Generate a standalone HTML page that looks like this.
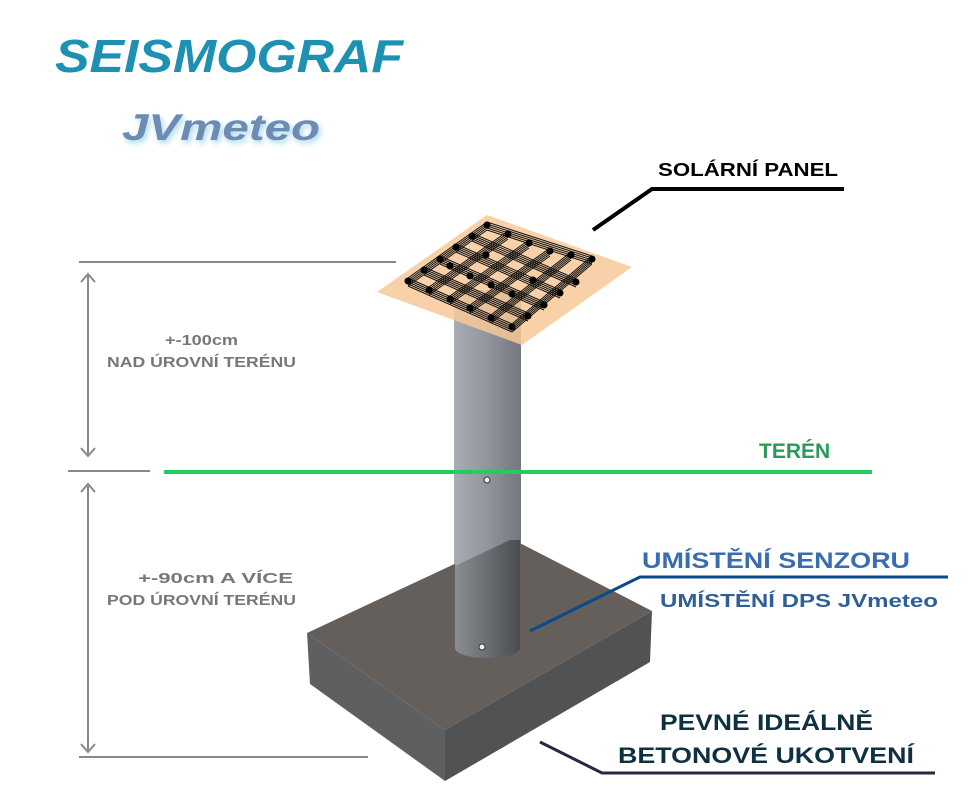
<!DOCTYPE html>
<html><head><meta charset="utf-8"><style>
html,body{margin:0;padding:0;background:#fff;}
svg{display:block;}
text{font-family:"Liberation Sans",Arial,sans-serif;font-weight:bold;}
</style></head><body>
<svg width="975" height="812" viewBox="0 0 975 812" xmlns="http://www.w3.org/2000/svg">
<defs>
<linearGradient id="pole" x1="0" x2="1" y1="0" y2="0">
<stop offset="0" stop-color="#a9adb3"/><stop offset="0.5" stop-color="#91959c"/><stop offset="1" stop-color="#74777c"/>
</linearGradient>
<linearGradient id="poleD" x1="0" x2="1" y1="0" y2="0">
<stop offset="0" stop-color="#8a8d92"/><stop offset="0.5" stop-color="#6a6d72"/><stop offset="1" stop-color="#4a4b4e"/>
</linearGradient>
<filter id="glow" x="-20%" y="-40%" width="140%" height="180%"><feGaussianBlur stdDeviation="3"/></filter>
</defs>

<text x="55" y="72" font-size="46" font-style="italic" fill="#1e90b2" textLength="348" lengthAdjust="spacingAndGlyphs">SEISMOGRAF</text>
<text x="124" y="143" font-size="37" font-style="italic" fill="#a8d8ee" filter="url(#glow)" textLength="198" lengthAdjust="spacingAndGlyphs">JVmeteo</text>
<text x="122" y="140" font-size="37" font-style="italic" fill="#6d8cb4" textLength="198" lengthAdjust="spacingAndGlyphs">JVmeteo</text>

<g stroke="#888" stroke-width="2" fill="none">
<line x1="79" y1="262" x2="396" y2="262"/>
<line x1="88" y1="274" x2="88" y2="456"/>
<polyline points="81,282 88,274 95,282"/>
<polyline points="81,448 88,456 95,448"/>
<line x1="68" y1="471" x2="150" y2="471"/>
<line x1="88" y1="484" x2="88" y2="752"/>
<polyline points="81,492 88,484 95,492"/>
<polyline points="81,744 88,752 95,744"/>
<line x1="79" y1="757" x2="368" y2="757"/>
</g>
<text x="165" y="345" font-size="15" fill="#777" textLength="73" lengthAdjust="spacingAndGlyphs">+-100cm</text>
<text x="107" y="367" font-size="15" fill="#777" textLength="189" lengthAdjust="spacingAndGlyphs">NAD ÚROVNÍ TERÉNU</text>
<text x="138" y="583" font-size="15" fill="#777" textLength="155" lengthAdjust="spacingAndGlyphs">+-90cm A VÍCE</text>
<text x="107" y="605" font-size="15" fill="#777" textLength="189" lengthAdjust="spacingAndGlyphs">POD ÚROVNÍ TERÉNU</text>

<polygon points="307,633 445,730 445,781 310,684" fill="#5e5f61"/>
<polygon points="445,730 652,611 650,662 445,781" fill="#515254"/>
<rect x="454" y="290" width="67" height="358" fill="url(#pole)"/>
<polygon points="307,633 510,538 652,611 445,730" fill="#645f5b"/>
<path d="M455,540 L520,540 L520,648 A32.5,10 0 0 1 455,648 Z" fill="url(#poleD)"/>
<path d="M454,290 L521,290 L521,540 L510,540 L455,566 Z" fill="url(#pole)"/>
<circle cx="482" cy="647" r="3" fill="#eee" stroke="#333" stroke-width="1"/>

<polygon points="377,292 487,215 632,267 522,345" fill="#f7c999" opacity="0.85"/>
<g stroke="#111" stroke-width="1" fill="none">
<g id="ga">
<path d="M408,280 L512,326 M424,269 L528,315 M440,258 L544,304 M456,246 L560,292 M472,235 L576,281 M487,224 L592,258"/>
<path d="M408,280 L487,224 M429,289 L508,233 M450,298 L529,242 M470,307 L550,250 M491,317 L571,254 M512,326 L592,258"/>
</g>
<use href="#ga" transform="translate(0,2)"/>
<use href="#ga" transform="translate(0,4)"/>
<use href="#ga" transform="translate(0,6)"/>
<use href="#ga" transform="translate(0,-2)"/>
</g>
<g fill="#000">
<circle cx="408" cy="281" r="3.5"/><circle cx="429" cy="290" r="3.5"/><circle cx="450" cy="299" r="3.5"/><circle cx="470" cy="308" r="3.5"/><circle cx="491" cy="318" r="3.5"/><circle cx="512" cy="327" r="3.5"/>
<circle cx="487" cy="225" r="3.5"/><circle cx="508" cy="234" r="3.5"/><circle cx="529" cy="243" r="3.5"/><circle cx="550" cy="251" r="3.5"/><circle cx="571" cy="255" r="3.5"/><circle cx="592" cy="259" r="3.5"/>
<circle cx="424" cy="270" r="3.5"/><circle cx="440" cy="259" r="3.5"/><circle cx="456" cy="247" r="3.5"/><circle cx="472" cy="236" r="3.5"/>
<circle cx="528" cy="316" r="3.5"/><circle cx="544" cy="305" r="3.5"/><circle cx="560" cy="293" r="3.5"/><circle cx="576" cy="282" r="3.5"/>
<circle cx="470" cy="276" r="3.5"/><circle cx="491" cy="285" r="3.5"/><circle cx="512" cy="294" r="3.5"/><circle cx="533" cy="280" r="3.5"/><circle cx="450" cy="266" r="3.5"/><circle cx="486" cy="255" r="3.5"/>
</g>

<line x1="164" y1="472" x2="872" y2="472" stroke="#22cc5e" stroke-width="4"/>
<circle cx="487" cy="480" r="3" fill="#eee" stroke="#333" stroke-width="1"/>
<text x="759" y="458" font-size="21" fill="#2a9a5c">TERÉN</text>

<polyline points="593,230 652,189 844,189" stroke="#000" stroke-width="4" fill="none"/>
<text x="658" y="176" font-size="18" fill="#000" textLength="180" lengthAdjust="spacingAndGlyphs">SOLÁRNÍ PANEL</text>

<polyline points="530,631 640,577 948,577" stroke="#0a4a8a" stroke-width="3" fill="none"/>
<text x="642" y="568" font-size="22" fill="#3a6cb0" textLength="268" lengthAdjust="spacingAndGlyphs">UMÍSTĚNÍ SENZORU</text>
<text x="660" y="607" font-size="18" fill="#2f5f98" textLength="278" lengthAdjust="spacingAndGlyphs">UMÍSTĚNÍ DPS JVmeteo</text>

<polyline points="540,742 602,773 935,773" stroke="#2a2840" stroke-width="3" fill="none"/>
<text x="660" y="730" font-size="22" fill="#0f3040" textLength="213" lengthAdjust="spacingAndGlyphs">PEVNÉ IDEÁLNĚ</text>
<text x="618" y="763" font-size="22" fill="#0f3040" textLength="296" lengthAdjust="spacingAndGlyphs">BETONOVÉ UKOTVENÍ</text>
</svg>
</body></html>
